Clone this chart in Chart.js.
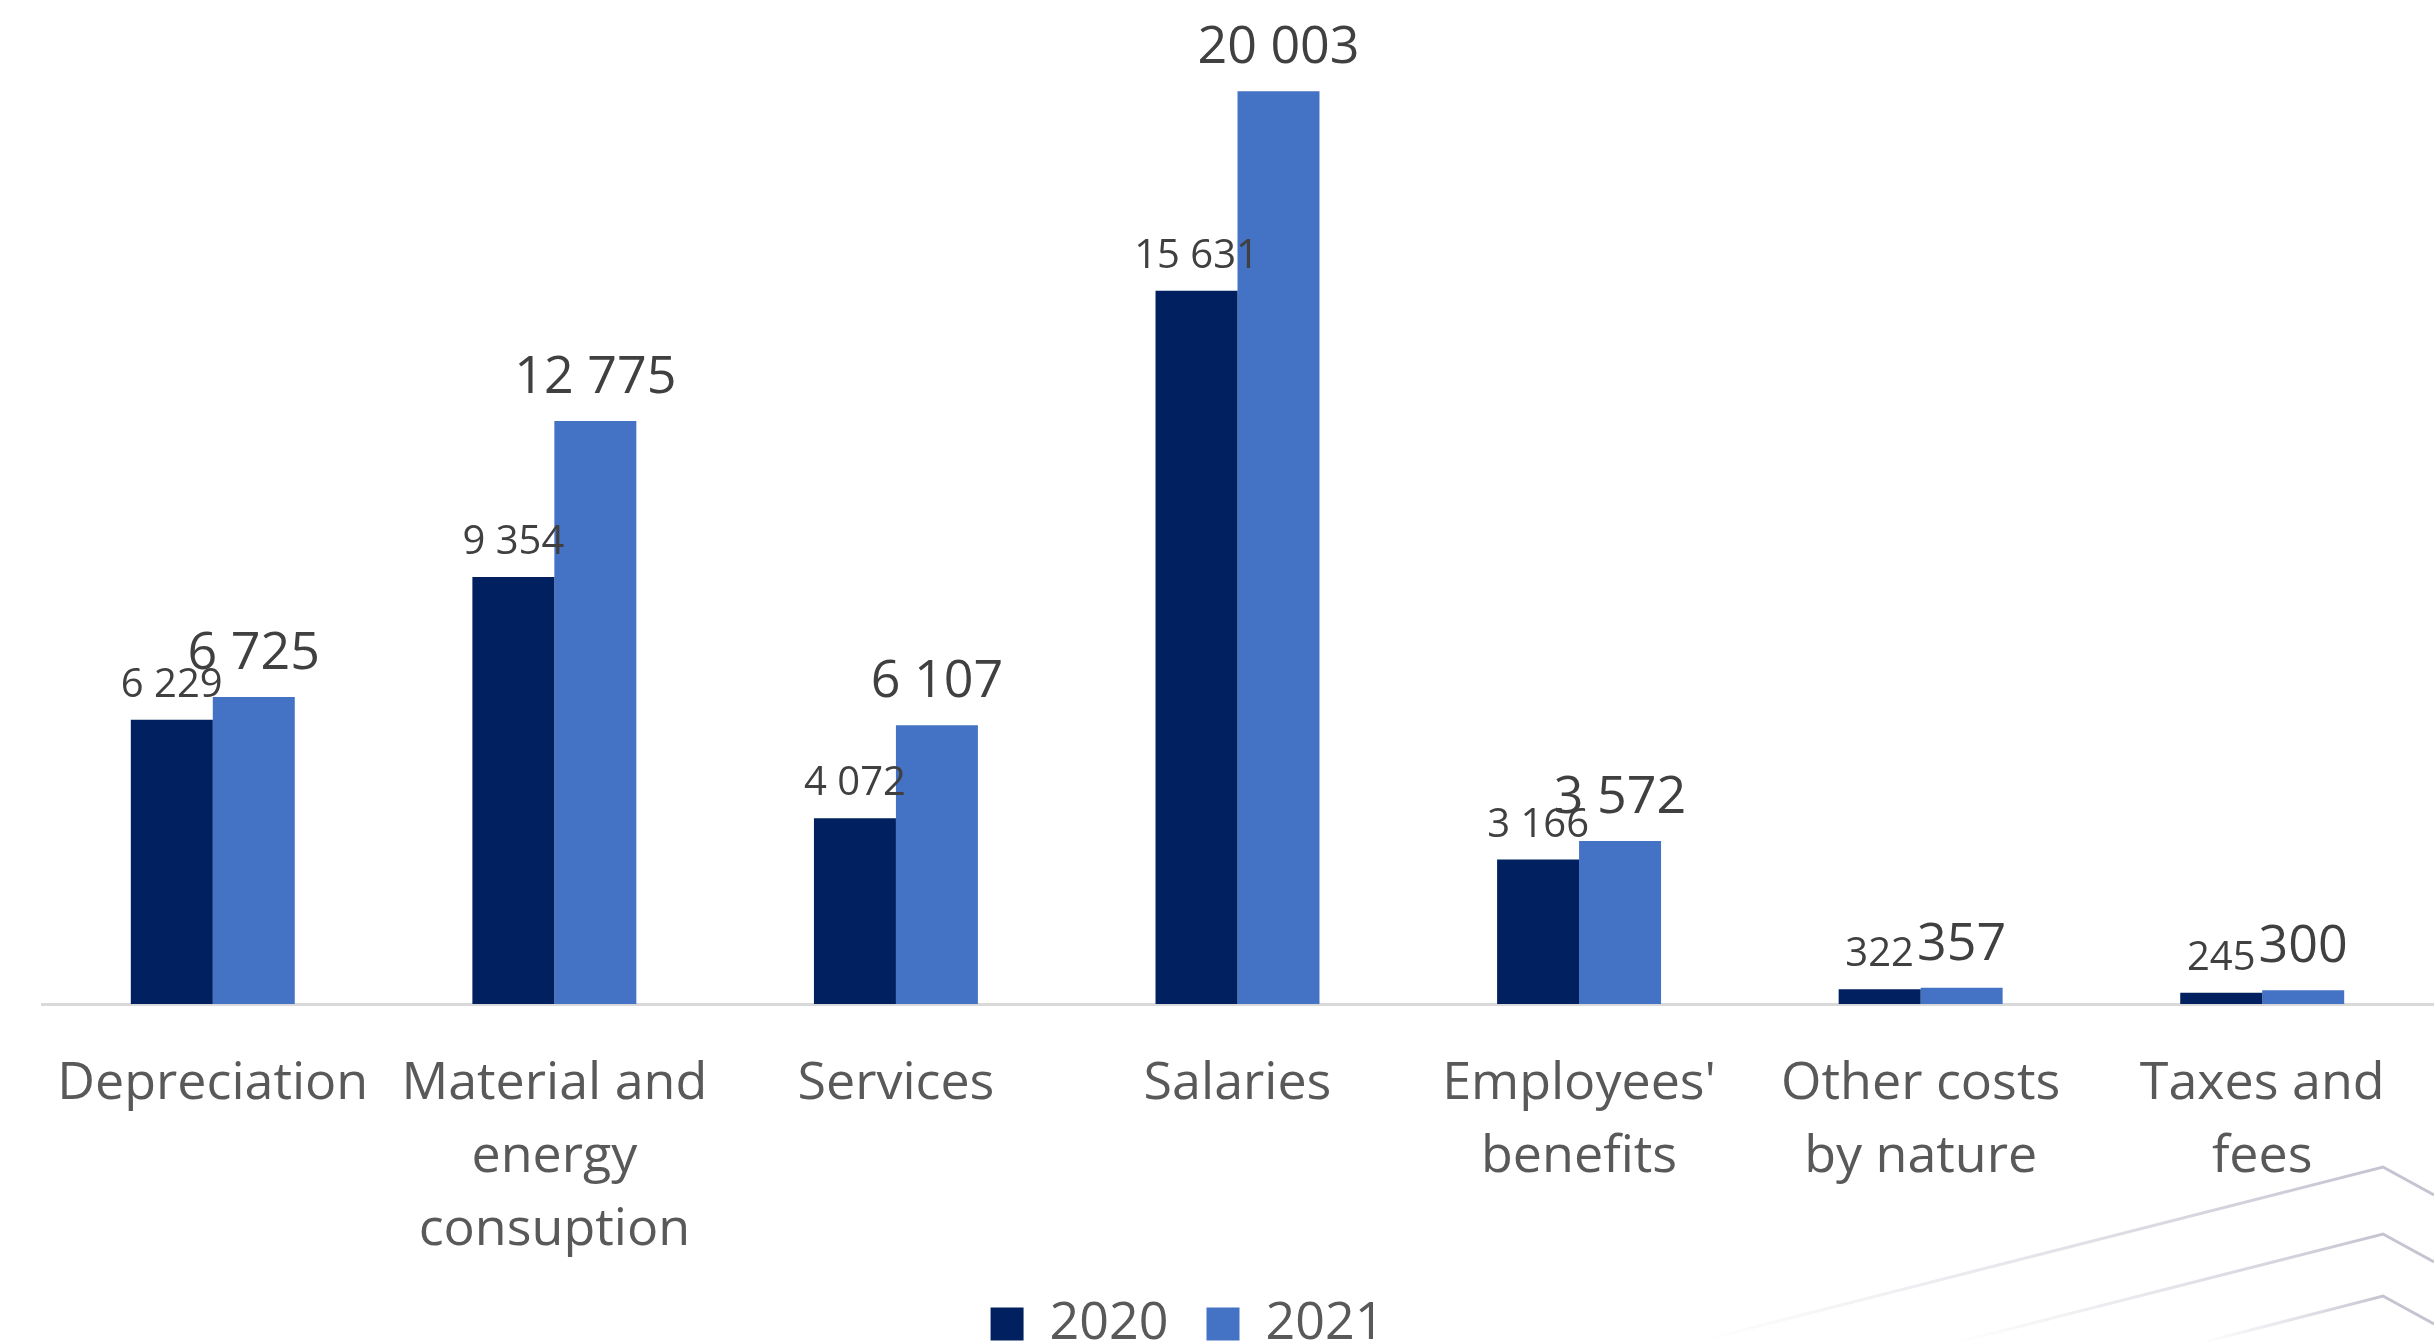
<!DOCTYPE html>
<html>
<head>
<meta charset="utf-8">
<script src="https://cdn.jsdelivr.net/npm/chart.js@4.4.1/dist/chart.umd.min.js"></script>
<style>
  html, body { margin: 0; padding: 0; background: #fff; overflow: hidden; }
  /* a bit taller than the window: the legend is cut at the bottom edge in the original */
  #wrap { width: 2434px; height: 1370px; position: relative; }
</style>
</head>
<body>
<div id="wrap"><canvas id="costChart"></canvas></div>
<script>
// Costs by nature, 2020 vs 2021
const categories = [
    ['Depreciation'],
    ['Material and', 'energy', 'consuption'],
    ['Services'],
    ['Salaries'],
    ["Employees'", 'benefits'],
    ['Other costs', 'by nature'],
    ['Taxes and', 'fees']
];
const values2020 = [6229, 9354, 4072, 15631, 3166, 322, 245];
const values2021 = [6725, 12775, 6107, 20003, 3572, 357, 300];
const seriesNames = ['2020', '2021'];

function fmt(v) {
    return String(v).replace(/\B(?=(\d{3})+(?!\d))/g, ' ');
}

// value labels above the bars (2020 smaller, 2021 larger, like the original)
const barLabels = {
    id: 'barLabels',
    afterDatasetsDraw(chart) {
        const ctx = chart.ctx;
        const styles = [
            { size: 40, gap: 23 },
            { size: 52, gap: 28 }
        ];
        chart.data.datasets.forEach((ds, i) => {
            const meta = chart.getDatasetMeta(i);
            ctx.save();
            ctx.font = styles[i].size + 'px "Open Sans"';
            ctx.fillStyle = '#404040';
            ctx.textAlign = 'center';
            ctx.textBaseline = 'alphabetic';
            meta.data.forEach((bar, j) => {
                ctx.fillText(fmt(ds.data[j]), bar.x, bar.y - styles[i].gap);
            });
            ctx.restore();
        });
    }
};

// faint background strokes in the bottom-right corner
const cornerLines = {
    id: 'cornerLines',
    beforeDraw(chart) {
        const ctx = chart.ctx;
        const lines = [
            [[1692, 1343], [2383, 1167], [2434, 1195]],
            [[1954, 1343], [2383, 1234], [2434, 1262]],
            [[2200, 1343], [2383, 1296], [2434, 1324]]
        ];
        ctx.save();
        lines.forEach(pts => {
            const g = ctx.createLinearGradient(pts[0][0], 0, pts[1][0], 0);
            g.addColorStop(0, 'rgba(200,200,212,0)');
            g.addColorStop(1, 'rgba(190,190,205,0.9)');
            ctx.strokeStyle = g;
            ctx.lineWidth = 3;
            ctx.beginPath();
            ctx.moveTo(pts[0][0], pts[0][1]);
            ctx.lineTo(pts[1][0], pts[1][1]);
            ctx.lineTo(pts[2][0], pts[2][1]);
            ctx.stroke();
        });
        ctx.restore();
        // nudge the legend to where the original has it
        if (chart.legend) {
            chart.legend.left -= 50;
            chart.legend.right -= 50;
            chart.legend.top -= 10;
            chart.legend.bottom -= 10;
        }
    }
};

const ctx = document.getElementById('costChart').getContext('2d');

const chart = new Chart(ctx, {
    type: 'bar',
    data: {
        labels: categories,
        datasets: [{
            label: seriesNames[0],
            data: values2020,
            backgroundColor: '#002060',
            categoryPercentage: 0.48,
            barPercentage: 1
        }, {
            label: seriesNames[1],
            data: values2021,
            backgroundColor: '#4472C4',
            categoryPercentage: 0.48,
            barPercentage: 1
        }]
    },
    options: {
        responsive: true,
        maintainAspectRatio: false,
        animation: false,
        layout: {
            padding: { left: 42, right: 1, top: 0, bottom: 0 }
        },
        plugins: {
            legend: {
                position: 'bottom',
                labels: {
                    boxWidth: 33,
                    boxHeight: 33,
                    padding: 38,
                    color: '#595959',
                    font: { family: 'Open Sans', size: 52 }
                }
            },
            tooltip: { enabled: false }
        },
        scales: {
            x: {
                grid: { display: false, drawTicks: false },
                border: { display: true, color: '#d9d9d9', width: 3 },
                ticks: {
                    autoSkip: false,
                    maxRotation: 0,
                    padding: 44,
                    color: '#595959',
                    font: { family: 'Open Sans', size: 52, lineHeight: 1.4 }
                },
                afterFit: function(scale) {
                    scale.height = 266;
                }
            },
            y: {
                display: false,
                min: 0,
                max: 22000
            }
        }
    },
    plugins: [cornerLines, barLabels]
});
</script>
</body>
</html>
